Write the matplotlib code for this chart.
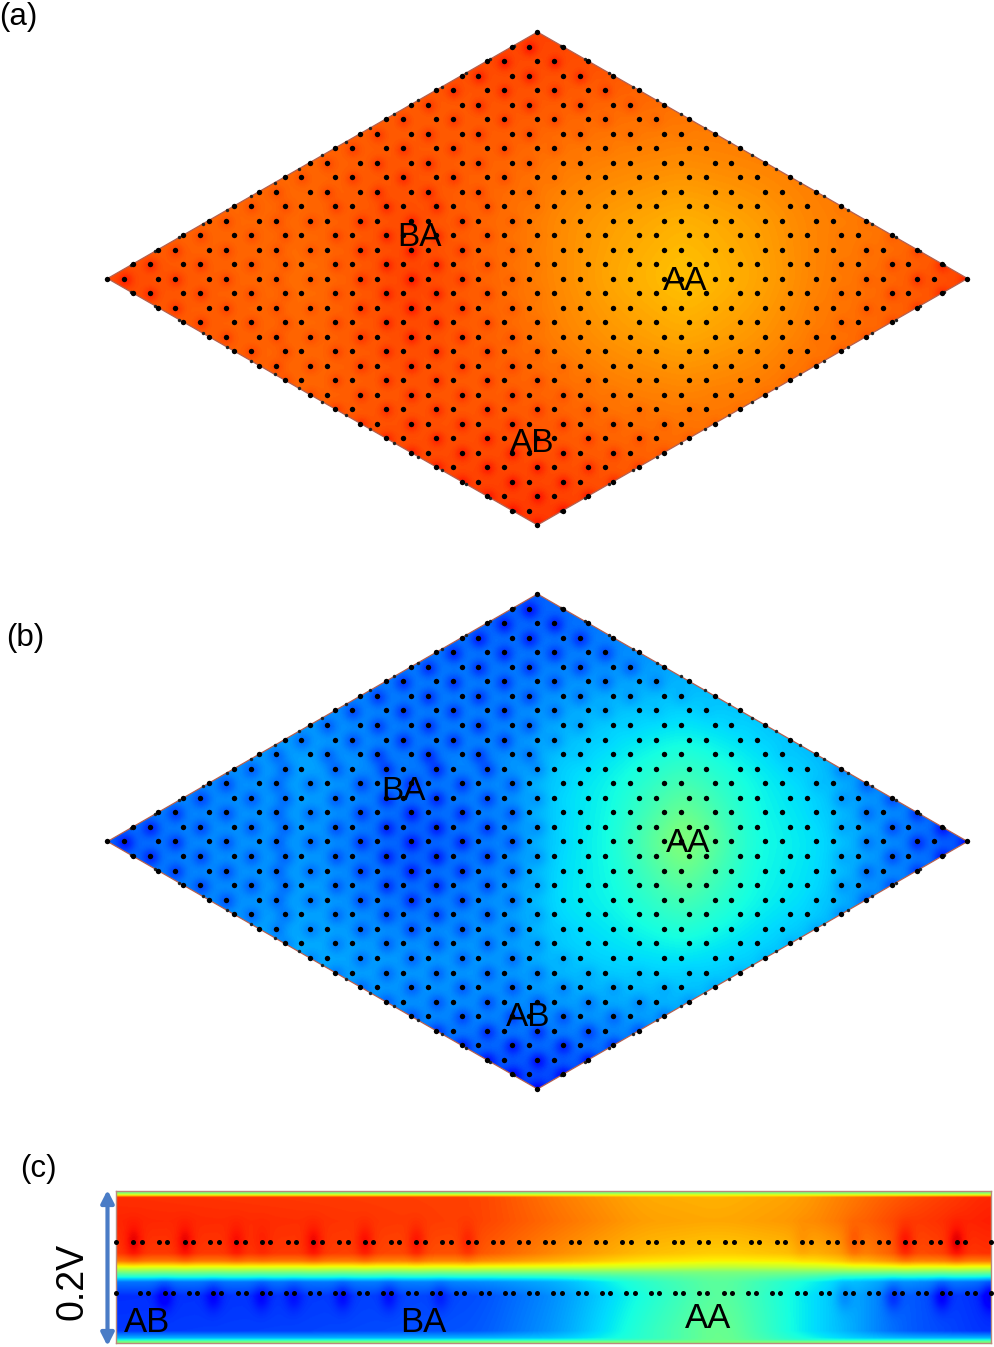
import numpy as np
import matplotlib
matplotlib.use("Agg")
import matplotlib.pyplot as plt
from matplotlib.patches import Polygon

W, H = 995, 1347

# colour field knots, lattice units across the cell (jet 0..1)
x_knots = [0, 4, 8, 12, 16, 18, 20, 22.8, 25.6, 28, 30, 34]
y_knots = [17, 12, 8, 4, 0, -4, -8, -12, -17]

field_a = [
    [.84, .84, .84, .84, .84, .84, .84, .83, .83, .83, .83, .83],
    [.81, .81, .81, .81, .82, .81, .80, .79, .79, .79, .79, .79],
    [.80, .80, .80, .82, .80, .78, .77, .76, .77, .78, .79, .79],
    [.80, .80, .80, .83, .79, .76, .74, .72, .74, .77, .78, .81],
    [.84, .81, .79, .84, .79, .76, .73, .70, .73, .77, .79, .84],
    [.81, .81, .80, .83, .80, .77, .75, .73, .75, .78, .80, .82],
    [.81, .81, .80, .82, .81, .80, .78, .77, .78, .80, .80, .80],
    [.83, .83, .83, .83, .83, .82, .81, .80, .80, .81, .81, .81],
    [.85, .85, .85, .85, .85, .85, .84, .83, .83, .83, .83, .83],
]

field_b = [
    [.22, .22, .22, .22, .22, .22, .23, .23, .23, .23, .23, .23],
    [.25, .25, .25, .25, .25, .26, .27, .29, .28, .27, .27, .27],
    [.28, .28, .28, .25, .26, .30, .33, .35, .33, .29, .27, .27],
    [.26, .26, .29, .24, .27, .34, .37, .44, .37, .33, .27, .25],
    [.21, .27, .28, .22, .26, .34, .38, .53, .38, .35, .29, .20],
    [.26, .26, .29, .24, .28, .35, .37, .44, .37, .34, .27, .25],
    [.30, .30, .30, .28, .28, .32, .34, .35, .33, .29, .27, .27],
    [.27, .27, .27, .27, .26, .27, .28, .29, .28, .27, .27, .27],
    [.19, .19, .19, .19, .19, .19, .20, .20, .20, .20, .20, .20],
]

# strip (c): x in lattice units, y in px below the strip top
strip_x = [0, 7.1, 14.1, 17.2, 20.4, 23.5, 26.6, 28.5, 30.5, 34]
strip_y = [0, 1.5, 3.5, 6, 30, 62, 70, 76, 81, 86, 91, 105, 140, 147, 149, 151, 152]
field_c = [
    [.50, .50, .50, .50, .50, .50, .50, .50, .50, .50],
    [.50, .50, .50, .50, .50, .50, .50, .50, .50, .50],
    [.62, .62, .62, .62, .62, .62, .62, .62, .62, .62],
    [.86, .85, .84, .78, .73, .72, .74, .78, .82, .87],
    [.87, .86, .84, .79, .74, .73, .75, .79, .84, .88],
    [.85, .85, .82, .76, .71, .69, .71, .75, .82, .86],
    [.78, .78, .76, .72, .67, .65, .66, .70, .76, .78],
    [.63, .63, .63, .62, .60, .58, .59, .61, .63, .63],
    [.50, .50, .50, .50, .50, .50, .50, .50, .50, .50],
    [.38, .38, .38, .39, .44, .48, .44, .39, .38, .37],
    [.24, .24, .26, .30, .40, .47, .38, .32, .27, .23],
    [.17, .18, .20, .27, .38, .47, .36, .30, .22, .16],
    [.18, .19, .21, .28, .40, .49, .36, .30, .22, .17],
    [.30, .30, .30, .32, .40, .49, .38, .33, .30, .30],
    [.38, .38, .38, .38, .42, .49, .40, .38, .38, .38],
    [.50, .50, .50, .50, .50, .50, .50, .50, .50, .50],
    [.50, .50, .50, .50, .50, .50, .50, .50, .50, .50],
]
strip_red_spots = [0.67, 2.67, 4.67, 5.67, 7.67, 9.67, 11.67, 13.67, 26.67, 28.67, 30.67, 32.67]
strip_red_amp = [.05, .05, .04, .02, .05, .05, .05, .04, .02, .04, .06, .06]
strip_blue_spots = [1.86, 3.77, 5.64, 6.9, 8.8, 10.6, 12.6, 28.3, 30.2, 32.1, 34]
strip_blue_amp = [.06, .05, .05, .04, .05, .05, .04, .04, .06, .07, .07]

labels_a = [("BA", 419, 238), ("AA", 685, 281), ("AB", 532, 443)]
labels_b = [("BA", 404, 792), ("AA", 688, 843), ("AB", 528, 1017)]
labels_c = [("AB", 147, 1322), ("BA", 423, 1322), ("AA", 708, 1319)]
panels = [("(a)", 18, 17), ("(b)", 25, 638), ("(c)", 38, 1169)]

N = 17
NEDGE = 18


def ax_px(fig, x0, y0, x1, y1):
    return fig.add_axes([x0 / W, 1 - y1 / H, (x1 - x0) / W, (y1 - y0) / H])


def resample(table, xk, yk, xs, ys):
    t = np.array(table, dtype=float)
    a = np.array([np.interp(xs, xk, row) for row in t])
    return np.array([np.interp(ys, yk, a[:, i]) for i in range(a.shape[1])]).T


def smooth(img, n, passes=3):
    k = np.ones(n) / n
    out = img
    for axis in (0, 1):
        for _ in range(passes):
            pad = [(n, n) if a == axis else (0, 0) for a in (0, 1)]
            p = np.pad(out, pad, mode="edge")
            p = np.apply_along_axis(lambda r: np.convolve(r, k, mode="same"), axis, p)
            out = p[n:-n, :] if axis == 0 else p[:, n:-n]
    return out


def add_spot(img, xs, ys, cx, cy, sx, sy, amp):
    i0, i1 = np.searchsorted(ys, [cy - 3 * sy, cy + 3 * sy])
    j0, j1 = np.searchsorted(xs, [cx - 3 * sx, cx + 3 * sx])
    if i1 <= i0 or j1 <= j0:
        return
    gx = np.exp(-((xs[j0:j1] - cx) / sx) ** 2 / 2)
    gy = np.exp(-((ys[i0:i1] - cy) / sy) ** 2 / 2)
    img[i0:i1, j0:j1] += amp * np.outer(gy, gx)


def lattice():
    ax_, ay_, bx_, by_ = [], [], [], []
    for i in range(N + 1):
        for j in range(N + 1):
            ax_.append(i + j)
            ay_.append(i - j)
            if i < N and j < N:
                bx_.append(i + j + 2 / 3)
                by_.append(i - j)
    return np.array(ax_, float), np.array(ay_, float), np.array(bx_), np.array(by_, float)


def edge_dots():
    t = np.arange(NEDGE + 1) * N / NEDGE
    ex = np.r_[t, t, 2 * N - t, 2 * N - t]
    ey = np.r_[t, -t, t, -t]
    return ex, ey


def rhombus(fig, box, table, spot_amp, spot_sigma):
    ax = ax_px(fig, *box)
    xs = np.linspace(0, 2 * N, 860)
    ys = np.linspace(-N, N, 494)
    base = smooth(resample(table[::-1], x_knots, y_knots[::-1], xs, ys), 21)
    img = base.copy()
    a_x, a_y, b_x, b_y = lattice()
    for px, py in zip(b_x, b_y):
        if px < 7 or py > 5:
            v = base[np.searchsorted(ys, py).clip(0, 493), np.searchsorted(xs, px).clip(0, 859)]
            add_spot(img, xs, ys, px + .05, py - .1, spot_sigma, spot_sigma * 1.7, spot_amp(v))
    for px, py in zip(a_x, a_y):
        if not (px < 7 or py > 5):
            v = base[np.searchsorted(ys, py).clip(0, 493), np.searchsorted(xs, px).clip(0, 859)]
            add_spot(img, xs, ys, px + .05, py - .1, spot_sigma, spot_sigma * 1.7, spot_amp(v))
    im = ax.imshow(img, extent=(0, 2 * N, -N, N), origin="lower", aspect="auto",
                   cmap="jet", vmin=0, vmax=1, interpolation="bilinear")
    corners = [(0, 0), (N, N), (2 * N, 0), (N, -N)]
    clip = Polygon(corners, closed=True, transform=ax.transData, fc="none", ec="none")
    ax.add_patch(clip)
    im.set_clip_path(clip)
    ax.add_patch(Polygon(corners, closed=True, fc="none", ec="#b5604f", lw=0.9, zorder=2))
    ex, ey = edge_dots()
    ax.scatter(ex, ey, s=6, c="#222222", lw=0, zorder=3, clip_on=False)
    ax.scatter(np.r_[a_x, b_x], np.r_[a_y, b_y], s=15, c="black", lw=0, zorder=4, clip_on=False)
    ax.set_xlim(0, 2 * N)
    ax.set_ylim(-N, N)
    ax.axis("off")


plt.rcParams["font.family"] = ["Liberation Sans", "DejaVu Sans"]
fig = plt.figure(figsize=(W / 100, H / 100), dpi=100, facecolor="white")

rhombus(fig, (107.5, 32, 967.5, 525), field_a,
        lambda v: .045 * np.clip((v - .77) / .06, 0, 1), .2)
rhombus(fig, (107.5, 594, 967.5, 1089), field_b,
        lambda v: -.075 * np.clip((.34 - v) / .10, 0, 1), .26)

# panel c strip
ax = ax_px(fig, 116, 1191, 991, 1343)
xs = np.linspace(0, 34, 875)
ys = np.linspace(0, 152, 305)
base = resample(field_c, strip_x, strip_y, xs, ys)
# keep the sharp bands as they are, smooth only along x
img = np.array([np.convolve(np.pad(r, 20, mode="edge"), np.ones(41) / 41, mode="same")[20:-20] for r in base])
for c, a in zip(strip_red_spots, strip_red_amp):
    add_spot(img, xs, ys, c, 52, .24, 12, a)
for c, a in zip(strip_blue_spots, strip_blue_amp):
    add_spot(img, xs, ys, c, 106, .24, 10, -a)
ax.imshow(img, extent=(0, 34, 152, 0), origin="upper", aspect="auto",
          cmap="jet", vmin=0, vmax=1, interpolation="bilinear")
ax.set_xlim(0, 34)
ax.set_ylim(152, 0)
top_x = [0.0] + [v for k in range(33) for v in (k + 2 / 3, k + 1)] + [34.0]
bot_unit = 34 / 36
bot_x = [0.0] + [v * bot_unit for k in range(1, 36) for v in (k, k + 1 / 3)] + [34.0]
ax.scatter(top_x, np.full(len(top_x), 51), s=13, c="black", lw=0, zorder=4, clip_on=False)
ax.scatter(bot_x, np.full(len(bot_x), 102), s=13, c="black", lw=0, zorder=4, clip_on=False)
ax.set_xticks([])
ax.set_yticks([])
for s in ax.spines.values():
    s.set_color("#b98a7c")
    s.set_linewidth(1.0)

# overlay in pixels for text and arrow
ov = fig.add_axes([0, 0, 1, 1], facecolor="none")
ov.set_xlim(0, W)
ov.set_ylim(H, 0)
ov.axis("off")
for txt, x, y in panels:
    ov.text(x, y, txt, ha="center", va="center", fontsize=22.5, color="#000000")
for txt, x, y in labels_a + labels_b:
    ov.text(x, y, txt, ha="center", va="center", fontsize=24, color="#000000")
for txt, x, y in labels_c:
    ov.text(x, y, txt, ha="center", va="center", fontsize=25, color="#000000")
ov.text(73, 1281, "0.2V", rotation=90, ha="center", va="center", fontsize=27, color="#000000")
ov.annotate("", xy=(107.5, 1190), xytext=(107.5, 1346),
            arrowprops=dict(arrowstyle="<|-|>,head_length=0.75,head_width=0.38",
                            color="#4a7cc6", lw=3, shrinkA=0, shrinkB=0))

fig.savefig("out.png", dpi=100, facecolor="white")
plt.close(fig)
